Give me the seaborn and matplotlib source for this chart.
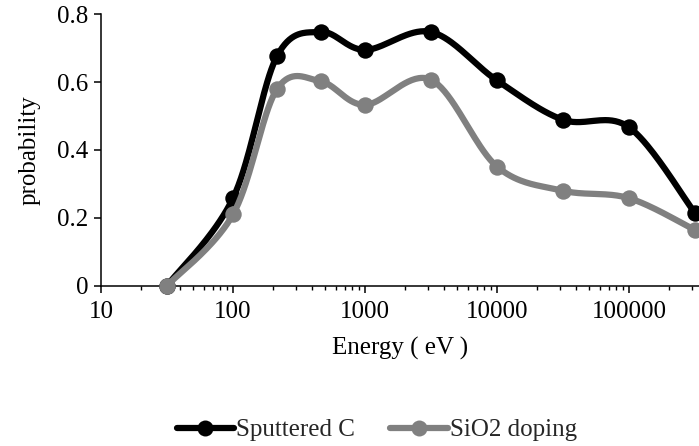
import numpy as np
import pandas as pd
import matplotlib
matplotlib.use("Agg")
import matplotlib.pyplot as plt
from matplotlib.lines import Line2D
from matplotlib import ticker
import seaborn as sns

# ---- data -------------------------------------------------------------
energy = [31.6, 100, 215, 464, 1000, 3162, 10000, 31623, 100000, 316228]
sputtered_c = [0.0, 0.258, 0.676, 0.748, 0.695, 0.748, 0.605, 0.489, 0.467, 0.214]
sio2_doping = [0.0, 0.210, 0.579, 0.602, 0.533, 0.607, 0.351, 0.280, 0.258, 0.164]
series_names = ["Sputtered C", "SiO2 doping"]
series_colors = ["#000000", "#808080"]
x_ticks = [10, 100, 1000, 10000, 100000]
x_tick_labels = ["10", "100", "1000", "10000", "100000"]
y_ticks = [0, 0.2, 0.4, 0.6, 0.8]
y_tick_labels = ["0", "0.2", "0.4", "0.6", "0.8"]

sns.set_theme(style="white")
plt.rcParams["font.family"] = ["Liberation Serif", "DejaVu Serif"]

W, H = 699, 446
fig = plt.figure(figsize=(W / 100, H / 100), dpi=100)
ax = fig.add_axes([101 / W, 1 - 285.7 / H, (W - 101) / W, (285.7 - 14.3) / H])

XMAX = 10 ** (1 + (W - 101) / 132)


def smooth_curve(xs, ys, n=40):
    """Catmull-Rom style Bezier smoothing in screen-like (log x, y) space."""
    u = np.log10(np.asarray(xs, float)) * 132.0
    v = np.asarray(ys, float) * 339.0
    p = np.column_stack([u, v])
    pts = np.vstack([p[0], p, p[-1]])
    out = []
    t = np.linspace(0, 1, n)[:, None]
    for i in range(1, len(pts) - 2):
        p0, p1, p2, p3 = pts[i - 1], pts[i], pts[i + 1], pts[i + 2]
        c1 = p1 + (p2 - p0) / 6.0
        c2 = p2 - (p3 - p1) / 6.0
        seg = ((1 - t) ** 3) * p1 + 3 * ((1 - t) ** 2) * t * c1 + 3 * (1 - t) * t ** 2 * c2 + t ** 3 * p2
        out.append(seg if i == 1 else seg[1:])
    out = np.vstack(out)
    return 10 ** (out[:, 0] / 132.0), out[:, 1] / 339.0


lw = 4.5
for k, (name, vals, col) in enumerate(zip(series_names, [sputtered_c, sio2_doping], series_colors)):
    sx, sy = smooth_curve(energy, vals)
    df_line = pd.DataFrame({"energy": sx, "prob": sy})
    sns.lineplot(data=df_line, x="energy", y="prob", sort=False, estimator=None,
                 color=col, linewidth=lw, ax=ax, zorder=3 + 2 * k, legend=False,
                 solid_capstyle="round")
    df_pts = pd.DataFrame({"energy": energy, "prob": vals})
    sns.scatterplot(data=df_pts, x="energy", y="prob", color=col, s=140,
                    linewidth=0, ax=ax, zorder=4 + 2 * k, clip_on=False, legend=False)

ax.set_xscale("log")
ax.set_xlim(10, XMAX)
ax.set_ylim(0, 0.8)

ax.xaxis.set_major_locator(ticker.FixedLocator(x_ticks))
ax.xaxis.set_major_formatter(ticker.FixedFormatter(x_tick_labels))
ax.xaxis.set_minor_locator(ticker.LogLocator(base=10, subs=np.arange(2, 10), numticks=20))
ax.xaxis.set_minor_formatter(ticker.NullFormatter())
ax.yaxis.set_major_locator(ticker.FixedLocator(y_ticks))
ax.yaxis.set_major_formatter(ticker.FixedFormatter(y_tick_labels))

for side in ["top", "right"]:
    ax.spines[side].set_visible(False)
for side in ["left", "bottom"]:
    ax.spines[side].set_color("black")
    ax.spines[side].set_linewidth(1.1)

ax.tick_params(axis="both", which="major", direction="out", length=5, width=1.1,
               color="black", labelsize=18, labelcolor="black", pad=4)
ax.tick_params(axis="x", which="major", pad=6)
ax.tick_params(axis="x", which="minor", direction="out", length=3, width=1.0,
               color="black", bottom=True)
ax.tick_params(axis="x", which="major", bottom=True)
ax.tick_params(axis="y", which="major", left=True)

ax.set_xlabel("Energy ( eV )", fontsize=18, color="black", labelpad=10)
ax.set_ylabel("probability", fontsize=18, color="black", labelpad=12)

handles = [Line2D([0], [0], color=c, lw=lw, marker="o", markersize=11.5,
                  markeredgewidth=0) for c in series_colors]
fig.legend(handles, series_names, loc="center", bbox_to_anchor=(377 / W, 1 - 430 / H),
           ncol=2, frameon=False, fontsize=18, handlelength=2.3, handletextpad=0.1,
           columnspacing=1.4, numpoints=1)

fig.savefig("out.png", dpi=100)
